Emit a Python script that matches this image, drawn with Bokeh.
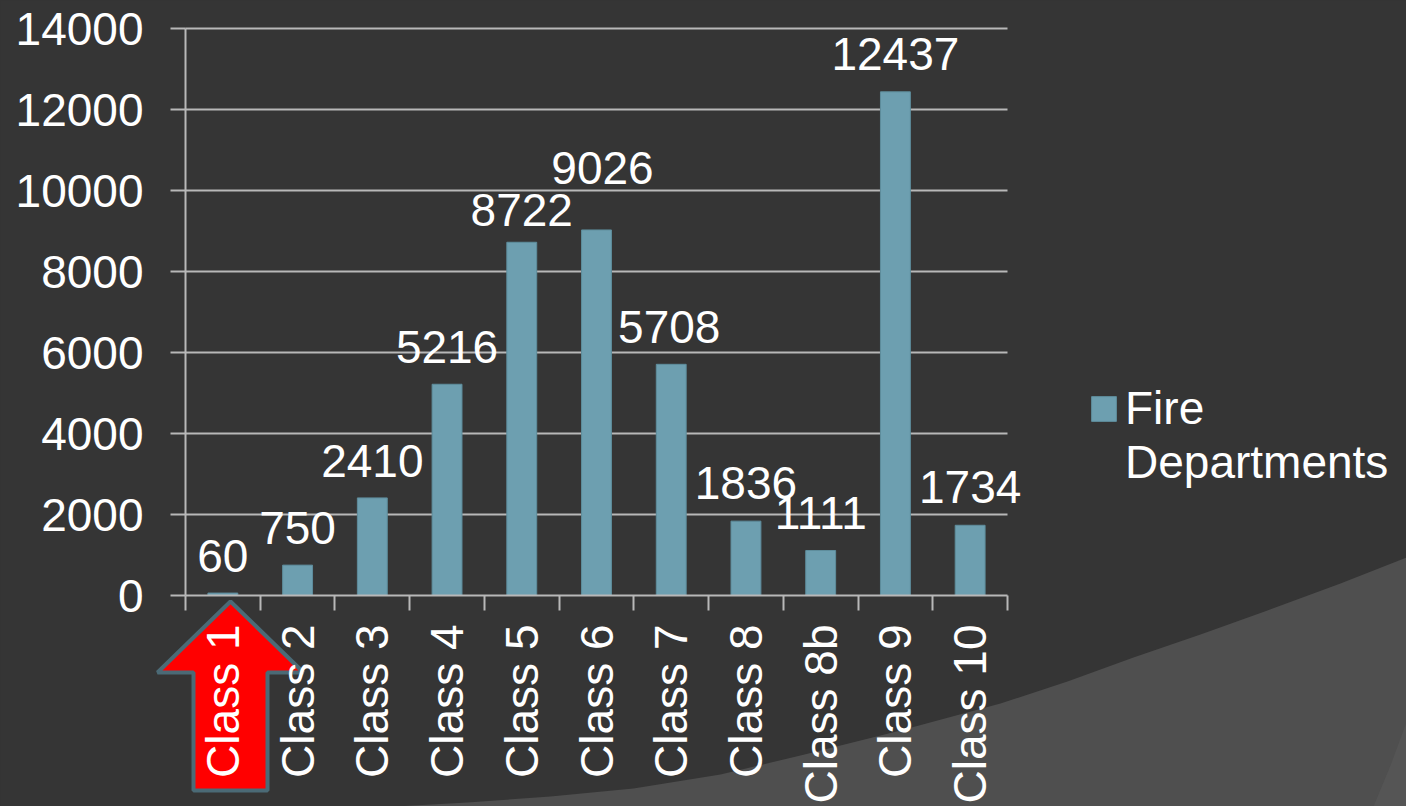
import math
from bokeh.plotting import figure
from bokeh.models import (Range1d, FixedTicker, ColumnDataSource, LabelSet, Legend,
                          LegendItem, PolyAnnotation)
from bokeh.core.properties import value
from bokeh.embed import file_html
from bokeh.resources import INLINE

# ---- data ----
categories = ["Class 1", "Class 2", "Class 3", "Class 4", "Class 5", "Class 6",
              "Class 7", "Class 8", "Class 8b", "Class 9", "Class 10"]
fire_departments = [60, 750, 2410, 5216, 8722, 9026, 5708, 1836, 1111, 12437, 1734]
y_ticks = [0, 2000, 4000, 6000, 8000, 10000, 12000, 14000]
series_name = "Fire\nDepartments"

# ---- styles / layout (pixels) ----
BG = "#353535"
LIGHT_BG = "#4f4f4f"
BAR = "#6d9fb0"
GRID = "#b8b8b8"
FONT = "Liberation Sans"
W, H = 1406, 806
PLOT_L, PLOT_R, PLOT_T, PLOT_B = 185, 1007, 28, 595
label_dy = [37, 37, 37, 37, 32, 62, 37, 38, 38, 38, 38]
label_dx = [0, 0, 0, 0, 0, 6, -2, 0, 0, 0, 0]

n = len(categories)
xs = list(range(1, n + 1))
x_lo, x_hi = 0.5, n + 0.5
y_lo, y_hi = y_ticks[0], y_ticks[-1]

# extend the ranges so that the frame fills the whole canvas and the
# plot area lands on PLOT_L..PLOT_R / PLOT_T..PLOT_B
ux = (x_hi - x_lo) / (PLOT_R - PLOT_L)
uy = (y_hi - y_lo) / (PLOT_B - PLOT_T)
x_range = Range1d(x_lo - PLOT_L * ux, x_hi + (W - PLOT_R) * ux)
y_range = Range1d(y_lo - (H - PLOT_B) * uy, y_hi + PLOT_T * uy)

p = figure(width=W, height=H, output_backend="svg", toolbar_location=None,
           x_range=x_range, y_range=y_range,
           min_border=0, min_border_left=0, min_border_right=0,
           min_border_top=0, min_border_bottom=0)
p.background_fill_color = BG
p.border_fill_color = BG
p.outline_line_color = None
p.xgrid.visible = False
p.ygrid.visible = False

# background curved panel (slide decoration, canvas pixels)
curve_x = [395, 467, 550, 633, 720, 800, 900, 1000, 1067, 1133, 1200, 1267, 1340, 1406,
           1420, 1420, 395]
curve_y = [806, 802, 796, 788, 774, 755, 730, 703, 681, 657, 634, 610, 583, 557,
           550, 820, 820]
p.add_layout(PolyAnnotation(xs=curve_x, ys=curve_y, xs_units="canvas", ys_units="canvas",
                            fill_color=LIGHT_BG, fill_alpha=1, line_color=None,
                            line_alpha=0, level="image"))
corner_x = [1373, 1390, 1406, 1420, 1420]
corner_y = [806, 765, 722, 700, 820]
p.add_layout(PolyAnnotation(xs=corner_x, ys=corner_y, xs_units="canvas", ys_units="canvas",
                            fill_color="#555555", fill_alpha=1, line_color=None,
                            line_alpha=0, level="image"))

# red arrow (slide decoration, canvas pixels)
arrow_x = [230, 303, 267, 267, 193, 193, 157]
arrow_y = [601, 672, 672, 790, 790, 672, 672]
p.add_layout(PolyAnnotation(xs=arrow_x, ys=arrow_y, xs_units="canvas", ys_units="canvas",
                            fill_color="#ff0000", fill_alpha=1, line_color="#4b6a76",
                            line_alpha=1, line_width=4, level="underlay"))

# horizontal gridlines across the plot area
grid_src = ColumnDataSource(dict(y=y_ticks[1:]))
p.segment(x0=x_lo, x1=x_hi, y0="y", y1="y", source=grid_src,
          line_color=GRID, line_width=2, level="underlay")

src = ColumnDataSource(dict(x=xs, top=fire_departments,
                            text=[str(v) for v in fire_departments],
                            dy=label_dy, dx=label_dx))

bars = p.vbar(x="x", top="top", width=0.4, source=src, fill_color=BAR,
              line_color="#5e8d9c", line_width=1)

labels = LabelSet(x="x", y="top", text="text", source=src, x_offset="dx", y_offset="dy",
                  text_align="center", text_baseline="middle", text_color="white",
                  text_font=value(FONT), text_font_size="46px")
p.add_layout(labels)

# x axis
xa = p.xaxis[0]
xa.fixed_location = y_lo
xa.bounds = (x_lo, x_hi)
xa.ticker = FixedTicker(ticks=xs, minor_ticks=[x - 0.5 for x in xs] + [x_hi])
xa.major_label_overrides = {x: c for x, c in zip(xs, categories)}
xa.major_tick_out = 0
xa.major_tick_in = 0
xa.minor_tick_out = 15
xa.minor_tick_in = 0
xa.minor_tick_line_color = GRID
xa.minor_tick_line_width = 2
xa.axis_line_color = GRID
xa.axis_line_width = 2
xa.major_label_orientation = math.pi / 2
xa.major_label_standoff = 14
xa.major_label_text_font = FONT
xa.major_label_text_font_size = "46px"
xa.major_label_text_color = "white"

# y axis
ya = p.yaxis[0]
ya.fixed_location = x_lo
ya.bounds = (y_lo, y_hi)
ya.ticker = FixedTicker(ticks=y_ticks, minor_ticks=[])
ya.major_tick_out = 15
ya.major_tick_in = 0
ya.major_tick_line_color = GRID
ya.major_tick_line_width = 2
ya.axis_line_color = GRID
ya.axis_line_width = 2
ya.major_label_standoff = 27
ya.major_label_text_font = FONT
ya.major_label_text_font_size = "46px"
ya.major_label_text_color = "white"

# leading blank line keeps the swatch level with the first text line
legend = Legend(items=[LegendItem(label="\n" + series_name, renderers=[bars])],
                location=(1088, H - 489), glyph_width=31, glyph_height=31,
                label_standoff=6, label_text_font=FONT, label_text_font_size="46px",
                label_text_color="white", background_fill_alpha=0,
                border_line_color=None, padding=0, margin=0, spacing=0,
                label_text_line_height=1.2)
p.add_layout(legend)

template = """
{% block preamble %}<style>html, body { background: #353535; }</style>{% endblock %}
"""
open("out.html", "w").write(file_html(p, INLINE, template=template))
